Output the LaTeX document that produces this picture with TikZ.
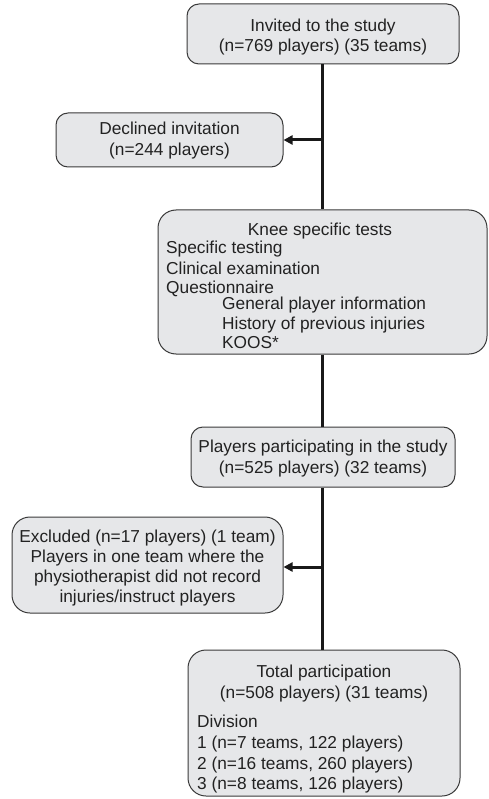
\documentclass[tikz,border=0pt]{standalone}
\usepackage{fontspec}
\setmainfont{Liberation Sans}
\usetikzlibrary{arrows.meta}
\definecolor{boxfill}{HTML}{E6E7E9}
\definecolor{boxline}{HTML}{3A3A3A}
\definecolor{txt}{HTML}{222222}
\begin{document}
\begin{tikzpicture}[x=1pt,y=-1pt,
  box/.style={draw=boxline, fill=boxfill, line width=1pt, rounded corners=12pt, inner sep=0pt},
  bigbox/.style={box, rounded corners=18pt},
  tx/.style={font=\fontsize{17.3}{20}\selectfont, text=txt, inner sep=0pt, anchor=base},
  txl/.style={tx, anchor=base west},
  conn/.style={line width=3pt, draw=black!90},
  arr/.style={conn, -{Triangle[length=9pt,width=9pt]}}
]
\useasboundingbox (0,0) rectangle (488,799);
% boxes
\node[box, minimum width=272pt, minimum height=60pt] (invited) at (323,34) {};
\node[box, minimum width=227pt, minimum height=54pt] (declined) at (169.5,140) {};
\node[bigbox, minimum width=329pt, minimum height=144pt] (knee) at (322.5,282) {};
\node[box, minimum width=264pt, minimum height=60pt] (players) at (323,457) {};
\node[bigbox, minimum width=271pt, minimum height=96pt] (excluded) at (147.5,565) {};
\node[bigbox, minimum width=272pt, minimum height=146pt] (total) at (324,723) {};
% connectors
\coordinate (j1) at (322,140);
\coordinate (j2) at (322,567);
\draw[conn] (invited.south -| j1) -- (knee.north -| j1);
\draw[conn] (knee.south -| j1) -- (players.north -| j1);
\draw[conn] (players.south -| j1) -- (total.north -| j1);
\draw[arr] (j1) -- (declined.east |- j1);
\draw[arr] (j2) -- (excluded.east |- j2);
% texts
\node[tx] (t1a) at (323,32) {Invited to the study};
\node[tx] (t1b) at (323,52) {(n=769 players) (35 teams)};
\node[tx] (t2a) at (169.5,135) {Declined invitation};
\node[tx] (t2b) at (169.5,156) {(n=244 players)};
\node[tx] (t3a) at (320,236) {Knee specific tests};
\node[txl] (t3b) at (166,254) {Specific testing};
\node[txl] (t3c) at (166,274) {Clinical examination};
\node[txl] (t3d) at (166,293) {Questionnaire};
\node[txl] (t3e) at (222,309) {General player information};
\node[txl] (t3f) at (222,329) {History of previous injuries};
\node[txl] (t3g) at (222,348) {KOOS*};
\node[tx] (t4a) at (323,452) {Players participating in the study};
\node[tx] (t4b) at (323,473) {(n=525 players) (32 teams)};
\node[tx] (t5a) at (147.5,542) {Excluded (n=17 players) (1 team)};
\node[tx] (t5b) at (147.5,562) {Players in one team where the};
\node[tx] (t5c) at (147.5,582) {physiotherapist did not record};
\node[tx] (t5d) at (147.5,602) {injuries/instruct players};
\node[tx] (t6a) at (324,677) {Total participation};
\node[tx] (t6b) at (324,698) {(n=508 players) (31 teams)};
\node[txl] (t6c) at (197,727) {Division};
\node[txl] (t6d) at (197,748) {1 (n=7 teams, 122 players)};
\node[txl] (t6e) at (197,769) {2 (n=16 teams, 260 players)};
\node[txl] (t6f) at (197,789) {3 (n=8 teams, 126 players)};
\end{tikzpicture}
\end{document}
